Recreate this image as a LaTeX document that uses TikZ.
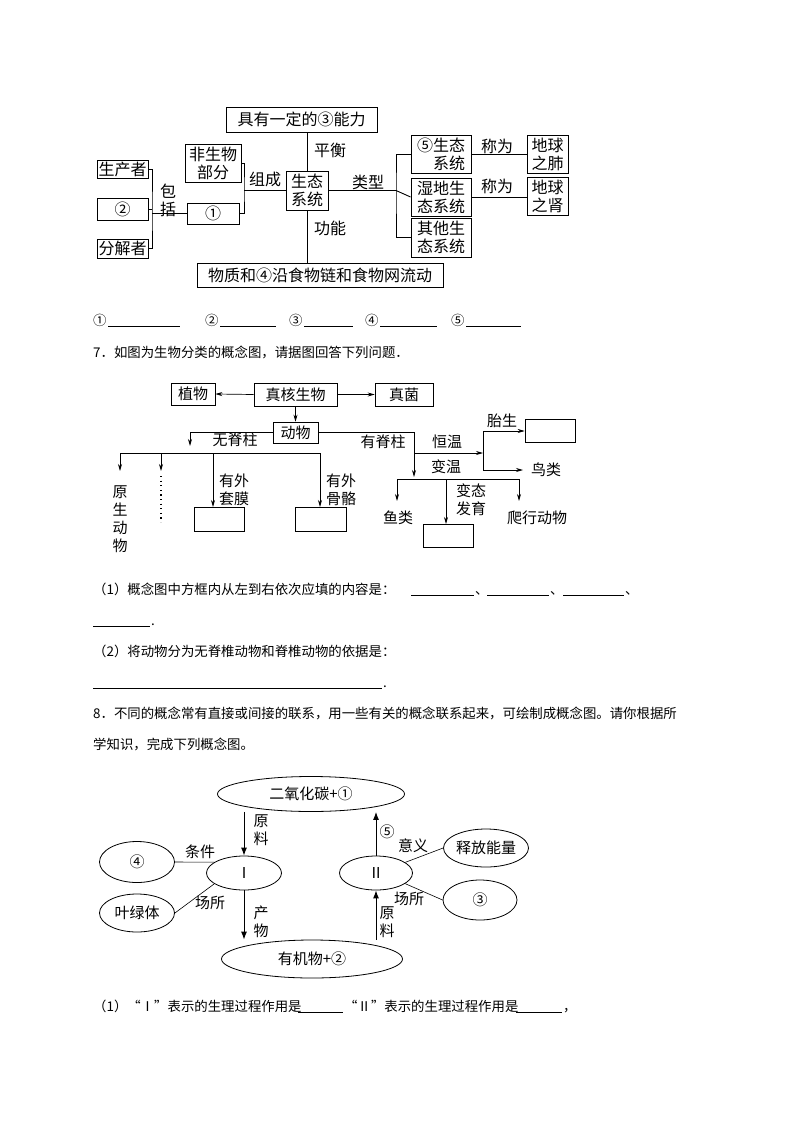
\documentclass[tikz,border=0pt]{standalone}
\usepackage{fontspec}
\setmainfont{Liberation Serif}
\newfontfamily\cjk{Noto Sans CJK SC}
\usetikzlibrary{arrows.meta,shapes.geometric}
\newcommand{\dg}{\cjk\fontsize{16}{18}\selectfont}
\newcommand{\dgb}{\cjk\fontsize{15}{18}\selectfont}
\newcommand{\bt}{\cjk\fontsize{13.4}{15}\selectfont}
\tikzset{
 bx/.style={draw,line width=0.9pt,inner sep=0pt,align=center,font=\dg},
 tb/.style={draw,line width=0.7pt,inner sep=0pt,align=center,font=\dgb},
 el/.style={draw,ellipse,line width=0.8pt,inner sep=0pt,font=\dgb},
 lb/.style={inner sep=0pt,align=center,font=\dg},
 lb2/.style={inner sep=0pt,align=center,font=\dgb},
 txt/.style={inner sep=0pt,anchor=base west,font=\bt},
 ar/.style={-{Stealth[length=7pt,width=4pt]},line width=0.7pt},
 ar3/.style={-{Latex[length=8pt,width=6pt]},line width=1pt},
 ln/.style={line width=0.9pt},
 ul/.style={line width=0.6pt}
}
\begin{document}
\begin{tikzpicture}[x=1pt,y=-1pt]
\useasboundingbox (0,0) rectangle (794,1123);
% ---------- diagram 1
\node[bx,minimum width=151,minimum height=25] (top) at (301.5,119.5) {具有一定的③能力};
\node[bx,minimum width=56,minimum height=38] (fsw) at (213,163) {非生物\\部分};
\node[bx,minimum width=51,minimum height=18] (scz) at (122.5,169) {生产者};
\node[bx,minimum width=51,minimum height=22] (n2) at (122.5,209) {②};
\node[bx,minimum width=51,minimum height=19] (fjz) at (122.5,248.5) {分解者};
\node[bx,minimum width=52,minimum height=21] (n1) at (213,213.5) {①};
\node[bx,minimum width=42,minimum height=39] (st) at (307,190.5) {生态\\系统};
\node[bx,minimum width=60,minimum height=38,align=right] (t5) at (441,154) {⑤生态\\系统};
\node[bx,minimum width=60,minimum height=38] (sd) at (441,197) {湿地生\\态系统};
\node[bx,minimum width=60,minimum height=39] (qt) at (441,237.5) {其他生\\态系统};
\node[bx,minimum width=41,minimum height=38] (fei) at (547.5,154) {地球\\之肺};
\node[bx,minimum width=41,minimum height=38] (shen) at (547.5,196.5) {地球\\之肾};
\node[bx,minimum width=246,minimum height=24] (wz) at (320,275) {物质和④沿食物链和食物网流动};
\coordinate (bl) at (152,213.5);
\coordinate (br) at (244,190.5);
\coordinate (bt) at (396,190.5);
\draw[ln] (scz.east) -| (bl) |- (fjz.east);
\draw[ln] (n2.east) -- (n2.east -| bl);
\draw[ln] (bl) -- (n1.west);
\draw[ln] (fsw.east) -| (br) |- (n1.east);
\draw[ln] (br) -- (st.west);
\draw[ln] (st.north) -- (st.north |- top.south);
\draw[ln] (st.south) -- (st.south |- wz.north);
\draw[ln] (st.east) -- (bt);
\draw[ln] (t5.west) -| (bt) |- (qt.west);
\draw[ln] (bt) -- (sd.west);
\draw[ln] (t5.east) -- (fei.west);
\draw[ln] (sd.east) -- (sd.east -| shen.west);
\node[lb] at (168,200) {包\\括};
\node[lb] at (265,179) {组成};
\node[lb] at (330,150) {平衡};
\node[lb] at (330,228) {功能};
\node[lb] at (368,182) {类型};
\node[lb] at (497,146) {称为};
\node[lb] at (497,186) {称为};
% answers
\node[txt] at (93,325) {①};
\draw[ul] (108,326) -- (180,326);
\node[txt] at (205,325) {②};
\draw[ul] (220,326) -- (276,326);
\node[txt] at (289,325) {③};
\draw[ul] (304,326) -- (353,326);
\node[txt] at (365,325) {④};
\draw[ul] (380,326) -- (437,326);
\node[txt] at (451,325) {⑤};
\draw[ul] (466,326) -- (521,326);
\node[txt] at (93,357) {7．如图为生物分类的概念图，请据图回答下列问题．};
% ---------- diagram 2
\node[tb,minimum width=44,minimum height=22] (zw) at (193,394) {植物};
\node[tb,minimum width=83,minimum height=23] (zh) at (295.5,394.5) {真核生物};
\node[tb,minimum width=58,minimum height=23] (zj) at (404,394.5) {真菌};
\node[tb,minimum width=45,minimum height=21] (dw) at (295.5,432.5) {动物};
\draw[ar] (zh.west) -- (zw.east);
\draw[ar] (zh.east) -- (zj.west);
\draw[ar] (zh.south) -- (dw.north);
\coordinate (wj) at (190,446);
\draw[ar] (dw.west) -| (wj);
\coordinate (hl) at (120,453);
\coordinate (hr) at (320,453);
\draw[ln,line width=0.7pt] (hl) -- (hr);
\node[tb,minimum width=50,minimum height=24] (b1) at (219,519) {};
\node[tb,minimum width=51,minimum height=24] (b2) at (320.5,519) {};
\coordinate (a1) at (120,471);
\coordinate (a2) at (161,471);
\draw[ar] (hl) -- (a1);
\draw[ar] (161,453) -- (a2);
\draw[ar] (213,453) -- (213,507);
\draw[ar] (hr) -- (320,507);
\node[lb,font=\dgb] at (120,519) {原\\生\\动\\物};
\draw[line width=1.2pt,dash pattern=on 1.2pt off 3.4pt] (161,476) -- (161,522);
\node[lb2,align=left] at (234,490) {有外\\套膜};
\node[lb2,align=left] at (341,490) {有外\\骨骼};
\node[lb2] at (235,440) {无脊柱};
\coordinate (yj) at (414,477);
\draw[ar] (dw.east) -| (yj);
\node[lb2] at (383,442) {有脊柱};
\coordinate (hw) at (483,453);
\draw[ar] (414,453) -- (hw);
\node[lb2] at (447,442) {恒温};
\node[tb,minimum width=50,minimum height=23] (tai) at (550,431) {};
\draw[line width=0.7pt] (483,431) -- (483,470);
\draw[ar] (483,431) -- (tai.west);
\draw[ar] (483,470) -- (523,470);
\node[lb2] at (502,421) {胎生};
\node[lb2] at (546,470) {鸟类};
\node[lb2] at (446,467) {变温};
\draw[line width=0.7pt] (397,479) -- (519,479);
\node[tb,minimum width=50,minimum height=23] (b3) at (448,535.5) {};
\draw[ar] (397,479) -- (397,501);
\draw[ar] (446,479) -- (446,524);
\draw[ar] (519,479) -- (519,501);
\node[lb2] at (398,518) {鱼类};
\node[lb2] at (471,500) {变态\\发育};
\node[lb2] at (537,518) {爬行动物};
% questions
\node[txt] at (93,594) {（1）概念图中方框内从左到右依次应填的内容是：};
\draw[ul] (411,595) -- (474,595);
\node[txt] at (475,594) {、};
\draw[ul] (487,595) -- (549,595);
\node[txt] at (550,594) {、};
\draw[ul] (563,595) -- (624,595);
\node[txt] at (625,594) {、};
\draw[ul] (93,626) -- (150,626);
\node[txt] at (151,625) {.};
\node[txt] at (93,656) {（2）将动物分为无脊椎动物和脊椎动物的依据是：};
\draw[ul] (93,688) -- (382,688);
\node[txt] at (383,687) {.};
\node[txt] at (93,718) {8．不同的概念常有直接或间接的联系，用一些有关的概念联系起来，可绘制成概念图。请你根据所};
\node[txt] at (93,749) {学知识，完成下列概念图。};
% ---------- diagram 3
\node[el,minimum width=187,minimum height=35] (co) at (311,794) {二氧化碳+①};
\node[el,minimum width=181,minimum height=38] (yj2) at (312,959) {有机物+②};
\node[el,minimum width=75,minimum height=34] (p1) at (244,873) {Ⅰ};
\node[el,minimum width=73,minimum height=34] (p2) at (376,873) {Ⅱ};
\node[el,minimum width=75,minimum height=41] (e4) at (137,862) {④};
\node[el,minimum width=75,minimum height=38] (ylt) at (137,913) {叶绿体};
\node[el,minimum width=85,minimum height=38] (sf) at (486,848) {释放能量};
\node[el,minimum width=74,minimum height=40] (e3) at (480,900) {③};
\draw[ar3] (co.south -| p1) -- (p1.north);
\draw[ar3] (p1.south) -- (p1.south |- yj2.north);
\draw[ar3] (p2.north) -- (p2.north |- co.south);
\draw[ar3] (p2.south |- yj2.north) -- (p2.south);
\draw[line width=0.6pt] (p1.160) -- (e4.east);
\draw[line width=0.6pt] (p1.200) -- (ylt.east);
\draw[line width=0.6pt] (p2.20) -- (sf.west);
\draw[line width=0.6pt] (p2.340) -- (e3.west);
\node[lb2] at (261,830) {原\\料};
\node[lb2] at (387,832) {⑤};
\node[lb2] at (413,846) {意义};
\node[lb2] at (200,852) {条件};
\node[lb2] at (210,903) {场所};
\node[lb2] at (261,922) {产\\物};
\node[lb2] at (387,922) {原\\料};
\node[lb2] at (409,899) {场所};
\node[txt] at (93,1011) {（1）“Ⅰ”表示的生理过程作用是};
\draw[ul] (298,1012) -- (343,1012);
\node[txt] at (344,1011) {“Ⅱ”表示的生理过程作用是};
\draw[ul] (516,1012) -- (562,1012);
\node[txt] at (563,1011) {，};
\end{tikzpicture}
\end{document}
